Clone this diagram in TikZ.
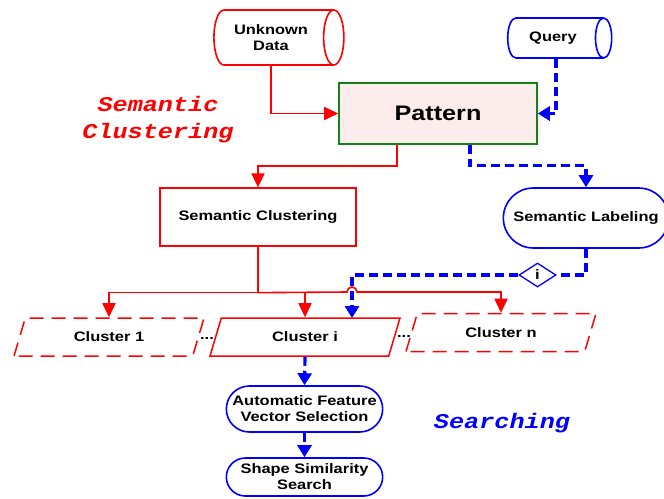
\documentclass[tikz,border=0pt]{standalone}
\usepackage{fontspec}
\setmainfont{Liberation Sans}[FakeStretch=1.2]
\newfontfamily\notefont{Liberation Mono}[FakeStretch=1.2]
\usetikzlibrary{arrows.meta,shapes.geometric,shapes.misc}

\definecolor{patfill}{RGB}{252,237,236}
\definecolor{patline}{RGB}{20,130,20}

\begin{document}
\begin{tikzpicture}[x=1pt,y=-1pt]
    \useasboundingbox (0,0) rectangle (664,498);

    \begin{scope}[every node/.style={align=center,line width=1.6pt,
        font=\bfseries\fontsize{13.7}{16}\selectfont}]
      \node[cylinder,draw=red,shape aspect=0.62,minimum height=130,minimum width=55] (unknown) at (271,37.5) {Unknown\\Data};
      \node[cylinder,draw=blue,shape aspect=0.85,minimum height=104,minimum width=40] (query) at (553,38) {Query};
      \node[rectangle,draw=patline,fill=patfill,minimum width=198,minimum height=61,
        font=\bfseries\fontsize{21}{24}\selectfont] (pattern) at (438,113.5) {Pattern};
      \node[rectangle,draw=red,line width=1.3pt,minimum width=196,minimum height=58] (semclu) at (258,217) {Semantic Clustering};
      \node[rounded rectangle,draw=blue,minimum width=172,minimum height=60] (semlab) at (586,218) {Semantic Labeling};
      \node[diamond,draw=blue,fill=white,line width=1.3pt,inner sep=0pt,minimum width=37,minimum height=24] (idx) at (537.5,275) {i};
    \end{scope}

    \begin{scope}[every node/.style={trapezium,trapezium left angle=56,trapezium right angle=124,
        trapezium stretches body,draw=red,line width=1.5pt,minimum width=190,minimum height=38,
        font=\bfseries\fontsize{13.7}{16}\selectfont}]
      \node[dash pattern=on 14pt off 8pt] (c1) at (109,337) {Cluster 1};
      \node (ci) at (305,337) {Cluster i};
      \node[dash pattern=on 14pt off 8pt] (cn) at (501,332.5) {Cluster n};
    \end{scope}

    \begin{scope}[every node/.style={rounded rectangle,draw=blue,line width=1.6pt,minimum width=163,
        align=center,font=\bfseries\fontsize{13.7}{16}\selectfont}]
      \node[minimum height=46] (feature) at (304.5,409) {Automatic Feature\\Vector Selection};
      \node[minimum height=38] (shape) at (304.5,477) {Shape Similarity\\Search};
    \end{scope}

    \node[font=\bfseries\fontsize{13.7}{16}\selectfont] (dots1) at (207,338) {...};
    \node[font=\bfseries\fontsize{13.7}{16}\selectfont] (dots2) at (404,336) {...};

    \node[red,align=center,font=\notefont\bfseries\itshape\fontsize{21}{27}\selectfont] (lblclu) at (158,120) {Semantic\\Clustering};
    \node[blue,font=\notefont\bfseries\itshape\fontsize{21}{27}\selectfont] (lblsearch) at (502,423) {Searching};

    \coordinate (split) at ([yshift=-46pt]semclu.south);
    \coordinate (jump) at (347,292);
    \coordinate (ciin) at (352,318);

    % red flow
    \begin{scope}[>={Triangle[length=14pt,width=13pt]},red,line width=1.6pt]
      \draw[->] (unknown.south) |- (pattern.west);
      \draw[->] ([xshift=-41pt]pattern.south) -- ++(0,21) -| (semclu.north);
      \draw (semclu.south) -- (split);
      \draw[->] (split) -| (c1.center |- c1.north);
      \draw[->] (split) -| (ci.center |- ci.north);
      \draw[->] (split) -- (jump) arc[start angle=180,end angle=360,radius=5] -| (cn.center |- cn.north);
    \end{scope}

    % blue flow
    \begin{scope}[>={Triangle[length=12pt,width=14pt]},blue,line width=3.2pt,dash pattern=on 9pt off 5pt]
      \draw[->] ([xshift=3pt]query.south) |- (pattern.east);
      \draw[->] ([xshift=32pt]pattern.south) -- ++(0,21) -| (semlab.north);
      \draw (semlab.south) |- (idx.east);
      \draw[->] (idx.west) -| (ciin);
      \draw[->] (ci.center |- ci.south) -- (feature.north);
      \draw[->] (feature.south) -- (shape.north);
    \end{scope}
\end{tikzpicture}
\end{document}
